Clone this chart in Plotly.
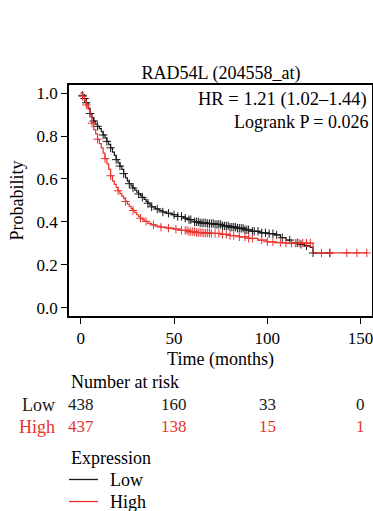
import numpy as np
import plotly.graph_objects as go

# ---- data ----
low_time = [0, 1, 2, 3, 4, 5, 6, 7, 8, 9, 10, 11, 12, 13, 14, 15, 16, 17, 18, 19, 20,
            21, 22, 23, 24, 25, 26, 27, 28, 29, 30, 31, 32, 33, 34, 35, 36, 37, 38, 40,
            42, 44, 46, 49, 52, 55, 58, 61, 64, 68, 72, 76, 80, 84, 88, 92, 96, 100,
            104, 107, 110, 113, 117, 120, 123, 124.5, 133.5]
low_surv = [1.0, 0.99, 0.975, 0.955, 0.93, 0.905, 0.885, 0.87, 0.855, 0.845, 0.835, 0.82,
            0.805, 0.79, 0.775, 0.76, 0.745, 0.725, 0.71, 0.69, 0.675, 0.66, 0.645, 0.625,
            0.605, 0.59, 0.578, 0.568, 0.558, 0.548, 0.538, 0.53, 0.522, 0.514, 0.505,
            0.495, 0.487, 0.478, 0.47, 0.46, 0.452, 0.446, 0.44, 0.433, 0.425, 0.417,
            0.41, 0.4, 0.395, 0.392, 0.388, 0.381, 0.375, 0.37, 0.363, 0.356, 0.349,
            0.345, 0.339, 0.326, 0.315, 0.302, 0.295, 0.288, 0.281, 0.255, 0.255]
low_censor = [1, 2, 3, 5, 7, 9, 12, 14, 16, 19, 21, 23, 26, 28, 31, 33, 36, 38, 41, 44,
              47, 50, 52, 54, 56, 58, 59, 61, 62, 63, 64, 65, 66, 67, 68, 69, 70, 71, 72,
              73, 74, 75, 76, 77, 78, 79, 80, 81, 82, 83, 84, 85, 86, 87, 88, 89, 90, 92,
              93, 95, 97, 99, 101, 103, 105, 108, 112, 116, 118, 121, 124.5, 133.5]

high_time = [0, 1, 2, 3, 4, 5, 6, 7, 8, 9, 10, 11, 12, 13, 14, 15, 16, 17, 18, 19, 20,
             21, 22, 23, 24, 25, 26, 27, 28, 29, 30, 31, 32, 33, 34, 36, 38, 40, 43, 46,
             50, 54, 58, 62, 66, 70, 75, 80, 85, 90, 95, 100, 104, 110, 124.5, 153.3]
high_surv = [1.0, 0.985, 0.965, 0.945, 0.925, 0.895, 0.86, 0.83, 0.81, 0.785, 0.765,
             0.745, 0.72, 0.695, 0.67, 0.645, 0.615, 0.59, 0.575, 0.56, 0.545, 0.532,
             0.52, 0.508, 0.495, 0.483, 0.472, 0.462, 0.453, 0.443, 0.433, 0.425, 0.417,
             0.41, 0.402, 0.393, 0.386, 0.38, 0.375, 0.371, 0.366, 0.36, 0.354, 0.35,
             0.348, 0.346, 0.342, 0.336, 0.33, 0.323, 0.315, 0.307, 0.303, 0.301, 0.255,
             0.255]
high_censor = [1, 3, 6, 9, 13, 16, 20, 24, 28, 32, 35, 39, 43, 47, 51, 54, 56, 57, 58, 59,
               60, 61, 62, 63, 64, 65, 66, 67, 68, 69, 70, 72, 74, 76, 78, 80, 82, 85, 88,
               90, 92, 97, 100, 103, 107, 110, 113, 115, 117, 119, 121, 123, 129, 133.5,
               142.6, 148, 153.3]

risk_times = [0, 50, 100, 150]
risk_low = [438, 160, 33, 0]
risk_high = [437, 138, 15, 1]

group_names = ["Low", "High"]
title_text = "RAD54L (204558_at)"
hr_text = "HR = 1.21 (1.02\u20131.44)"
p_text = "Logrank P = 0.026"
legend_title = "Expression"

BLACK = "#1a1a1a"
RED = "#e8332f"
FONT = "Liberation Serif"
FS_NUM = 17   # digits / tick labels
FS_TXT = 18   # words

W, H = 373, 511
ML, MR, MT, MB = 69, 1, 85, 195
PH = H - MT - MB          # plot height in px
PW = W - ML - MR          # plot width in px


def py(px_below_axis):
    """paper y for a distance (px) below the x-axis line"""
    return -px_below_axis / PH


def step_at(times, surv, t):
    idx = np.searchsorted(np.asarray(times), t, side="right") - 1
    return np.asarray(surv)[np.clip(idx, 0, len(surv) - 1)]


fig = go.Figure()
colors = [BLACK, RED]
for name, tt, ss, cc, col in [(group_names[0], low_time, low_surv, low_censor, BLACK),
                              (group_names[1], high_time, high_surv, high_censor, RED)]:
    fig.add_trace(go.Scatter(x=tt, y=ss, mode="lines", line=dict(color=col, width=1.2, shape="hv"),
                             name=name, legendgroup=name, showlegend=False))
    fig.add_trace(go.Scatter(x=cc, y=step_at(tt, ss, cc), mode="markers", showlegend=False,
                             legendgroup=name, name=name + " (censored)",
                             marker=dict(symbol="cross-thin", size=6, line=dict(color=col, width=1))))

axis_common = dict(showline=True, linecolor="black", linewidth=1.5, mirror=True,
                   ticks="outside", ticklen=6, tickwidth=1.3, tickcolor="black",
                   showgrid=False, zeroline=False, ticklabeloverflow="allow",
                   tickfont=dict(family=FONT, size=FS_NUM, color="black"))
fig.update_xaxes(range=[-6.3, 156.1], tickvals=risk_times,
                 title=dict(text="Time (months)", font=dict(family=FONT, size=FS_TXT, color="black"),
                            standoff=5), **axis_common)
fig.update_yaxes(range=[-0.039, 1.038], tickvals=[0, 0.2, 0.4, 0.6, 0.8, 1.0],
                 tickformat=".1f",
                 title=dict(text="Probability", font=dict(family=FONT, size=FS_TXT, color="black"),
                            standoff=8), **axis_common)

ann = []
ann.append(dict(text=hr_text, x=1 - 3 / PW, y=0.939, xref="paper", yref="paper",
                xanchor="right", yanchor="middle", showarrow=False, font=dict(size=18.5)))
ann.append(dict(text=p_text, x=1 - 2 / PW, y=0.838, xref="paper", yref="paper",
                xanchor="right", yanchor="middle", showarrow=False))
ann.append(dict(text="Number at risk", x=0, y=py(66), xref="paper", yref="paper",
                xanchor="left", yanchor="middle", showarrow=False))
row_y = [py(88.5), py(110.5)]
for name, col, y in zip(group_names, colors, row_y):
    ann.append(dict(text=name, x=-12 / PW, y=y, xref="paper", yref="paper",
                    xanchor="right", yanchor="middle", showarrow=False, font=dict(color=col)))
for vals, col, y in [(risk_low, BLACK, row_y[0]), (risk_high, RED, row_y[1])]:
    for t, n in zip(risk_times, vals):
        ann.append(dict(text=str(n), x=t, y=y, xref="x", yref="paper",
                        xanchor="center", yanchor="middle", showarrow=False,
                        font=dict(color=col, size=FS_NUM)))

# legend (drawn as text + swatch lines so spacing matches)
ann.append(dict(text=legend_title, x=0, y=py(142), xref="paper", yref="paper",
                xanchor="left", yanchor="middle", showarrow=False))
shapes = []
leg_y = [py(164), py(186)]
for name, col, y in zip(group_names, colors, leg_y):
    ann.append(dict(text=name, x=39 / PW, y=y, xref="paper", yref="paper",
                    xanchor="left", yanchor="middle", showarrow=False))
    shapes.append(dict(type="line", xref="paper", yref="paper", x0=0, x1=29 / PW,
                       y0=y + 0.5 / PH, y1=y + 0.5 / PH, line=dict(color=col, width=1.3)))

for a in ann:
    f = dict(family=FONT, size=FS_TXT, color="black")
    f.update(a.get("font", {}))
    a["font"] = f
fig.update_layout(annotations=ann, shapes=shapes)

fig.update_layout(
    width=W, height=H,
    margin=dict(l=ML, r=MR, t=MT, b=MB, autoexpand=False),
    paper_bgcolor="white", plot_bgcolor="white",
    font=dict(family=FONT, size=FS_TXT, color="black"),
    title=dict(text=title_text, x=221 / W, xanchor="center", y=1 - 73 / H, yanchor="middle",
               font=dict(family=FONT, size=FS_TXT, color="black")),
    showlegend=False,
)

fig.write_html("out.html", config={"displayModeBar": False},
               post_script="document.body.style.margin='0';document.body.style.overflow='hidden';")
